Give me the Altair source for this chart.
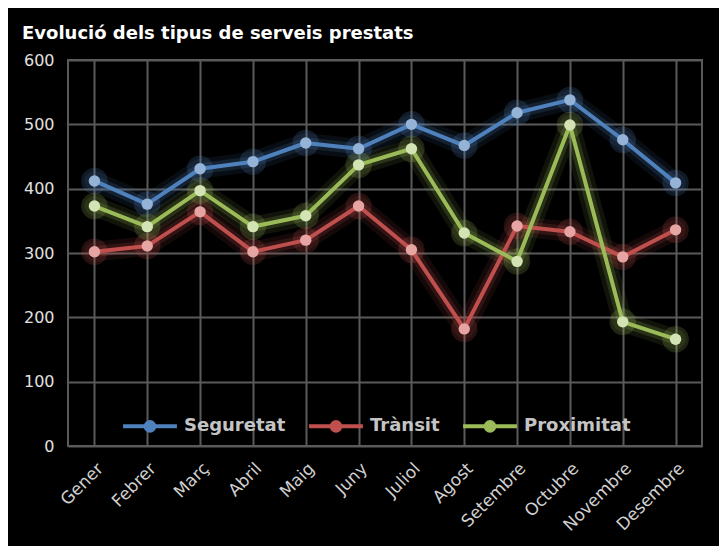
import altair as alt
import pandas as pd

months = ["Gener", "Febrer", "Març", "Abril", "Maig", "Juny", "Juliol",
          "Agost", "Setembre", "Octubre", "Novembre", "Desembre"]
series = ["Seguretat", "Trànsit", "Proximitat"]
seguretat = [412, 376, 431, 442, 471, 462, 500, 467, 518, 538, 476, 409]
transit = [302, 311, 364, 302, 320, 373, 305, 182, 342, 333, 294, 336]
proximitat = [373, 341, 397, 341, 358, 437, 462, 331, 287, 499, 193, 166]

line_colors = ["#4f81bd", "#c0504d", "#9bbb59"]
point_colors = ["#95b3d7", "#e6a5a3", "#d3e3b3"]

rows = []
for name, vals in zip(series, [seguretat, transit, proximitat]):
    for m, v in zip(months, vals):
        rows.append({"Mes": m, "Serie": name, "Valor": v})
df = pd.DataFrame(rows)

font = "DejaVu Sans"
grid = "#5a5a5a"

x = alt.X("Mes:N", sort=months, title=None,
          scale=alt.Scale(paddingInner=0, paddingOuter=0),
          axis=alt.Axis(labelAngle=-45, labelFontSize=17, labelColor="#d0d0d0",
                        labelFont=font, labelPadding=14, ticks=False, domain=False,
                        grid=True, gridColor=grid, gridWidth=2, bandPosition=0))
y = alt.Y("Valor:Q", title=None,
          scale=alt.Scale(domain=[0, 600]),
          axis=alt.Axis(values=[0, 100, 200, 300, 400, 500, 600], labelFontSize=16,
                        labelColor="#e0e0e0", labelFont=font, labelPadding=14,
                        ticks=False, domain=False, grid=True, gridColor=grid,
                        gridWidth=2))

base = alt.Chart(df)

glow1 = base.mark_line(strokeWidth=20, opacity=0.10, strokeCap="round", strokeJoin="round").encode(
    x=x, y=y, stroke=alt.Stroke("Serie:N", scale=alt.Scale(domain=series, range=line_colors), legend=None))
glow2 = base.mark_line(strokeWidth=11, opacity=0.18, strokeCap="round", strokeJoin="round").encode(
    x=x, y=y, stroke=alt.Stroke("Serie:N", scale=alt.Scale(domain=series, range=line_colors), legend=None))
pglow = base.mark_circle(size=700, opacity=0.2).encode(
    x=x, y=y, fill=alt.Fill("Serie:N", scale=alt.Scale(domain=series, range=line_colors), legend=None))

symbol_path = ("M-1,0H1"
               "M0.16,0A0.16,0.16,0,1,1,-0.16,0A0.16,0.16,0,1,1,0.16,0Z"
               "M0.07,0A0.07,0.07,0,1,1,-0.07,0A0.07,0.07,0,1,1,0.07,0Z")

color = alt.Color("Serie:N", sort=series,
                  scale=alt.Scale(domain=series, range=line_colors),
                  legend=alt.Legend(
                      title=None, orient="none", direction="horizontal",
                      legendX=53, legendY=337, padding=0,
                      symbolType=symbol_path,
                      symbolSize=2900, symbolStrokeWidth=4,
                      labelFont=font, labelFontSize=18, labelFontWeight="bold",
                      labelColor="#c4c4c4", labelOffset=5, columnPadding=15))

line = base.mark_line(strokeWidth=4, strokeJoin="round").encode(
    x=x, y=y, color=color)
plight = base.mark_circle(size=130, opacity=1).encode(
    x=x, y=y,
    fill=alt.Fill("Serie:N", scale=alt.Scale(domain=series, range=point_colors), legend=None))

chart = alt.layer(glow1, glow2, pglow, line, plight).resolve_scale(
    color="independent", fill="independent", stroke="independent"
).resolve_legend(
    color="independent", fill="independent", stroke="independent"
).properties(
    width=634, height=386,
    autosize=alt.AutoSizeParams(type="none"),
    padding={"left": 60, "top": 52, "right": 17, "bottom": 100},
    background="#000000",
    title=alt.TitleParams("Evolució dels tipus de serveis prestats", anchor="start",
                          font=font, fontSize=18, fontWeight="bold", color="#ffffff",
                          dx=-46, offset=9, frame="group"),
).configure_view(stroke=grid, strokeWidth=2)

chart.save("out.html", embed_options={"renderer": "svg", "actions": False})
